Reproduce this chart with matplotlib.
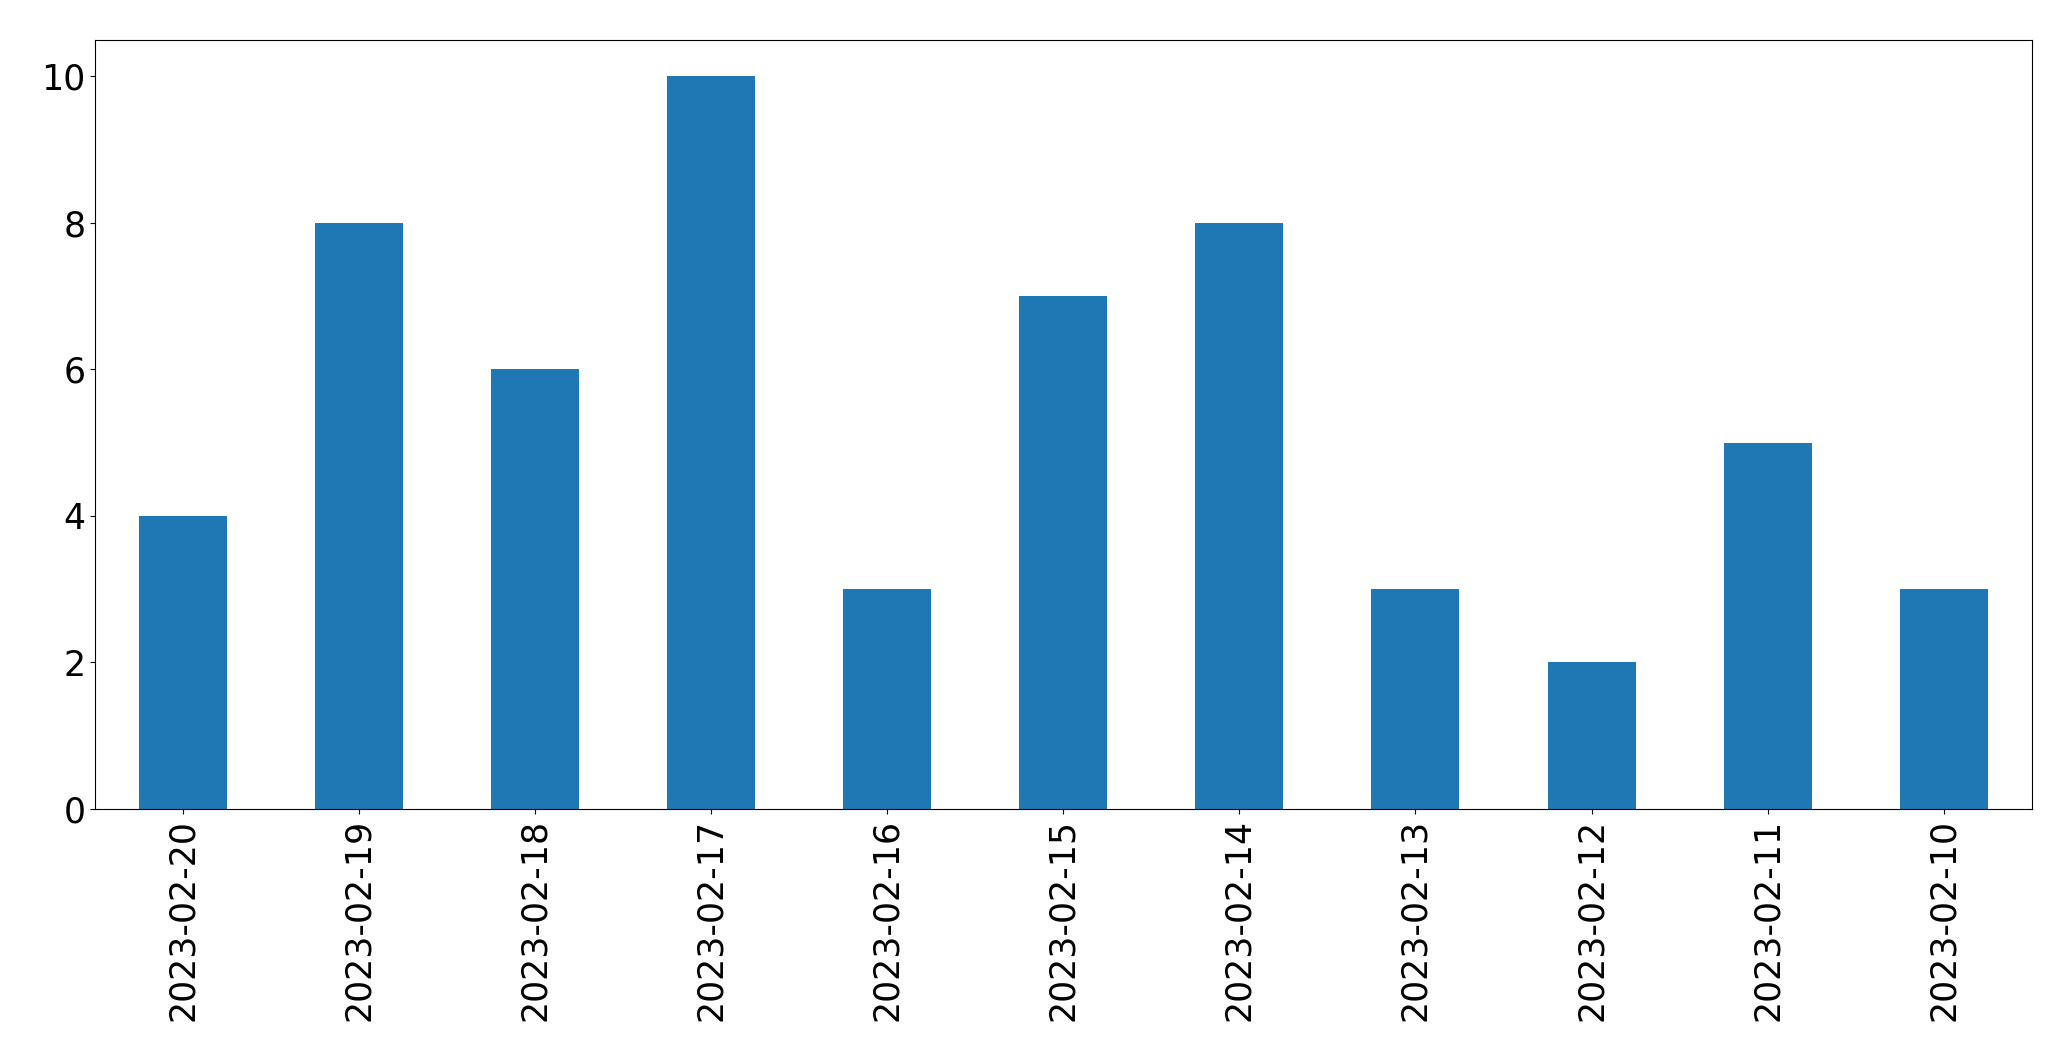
import matplotlib
matplotlib.use("Agg")
import matplotlib.pyplot as plt

dates = ["2023-02-20", "2023-02-19", "2023-02-18", "2023-02-17", "2023-02-16",
         "2023-02-15", "2023-02-14", "2023-02-13", "2023-02-12", "2023-02-11",
         "2023-02-10"]
counts = [4, 8, 6, 10, 3, 7, 8, 3, 2, 5, 3]

fig = plt.figure(figsize=(20.71, 10.61), dpi=100)
ax = fig.add_axes([95/2071, 1 - 809/1061, (2031.7-95)/2071, (809-39.5)/1061])
x = list(range(len(dates)))
ax.bar(x, counts, width=0.5, color="#1f77b4")
ax.set_xlim(-0.5, len(dates) - 0.5)
ax.set_ylim(0, 10.5)
ax.set_xticks(x)
ax.set_xticklabels(dates, rotation=90)
ax.set_yticks([0, 2, 4, 6, 8, 10])
ax.tick_params(labelsize=25)
fig.savefig("out.png", dpi=100)
